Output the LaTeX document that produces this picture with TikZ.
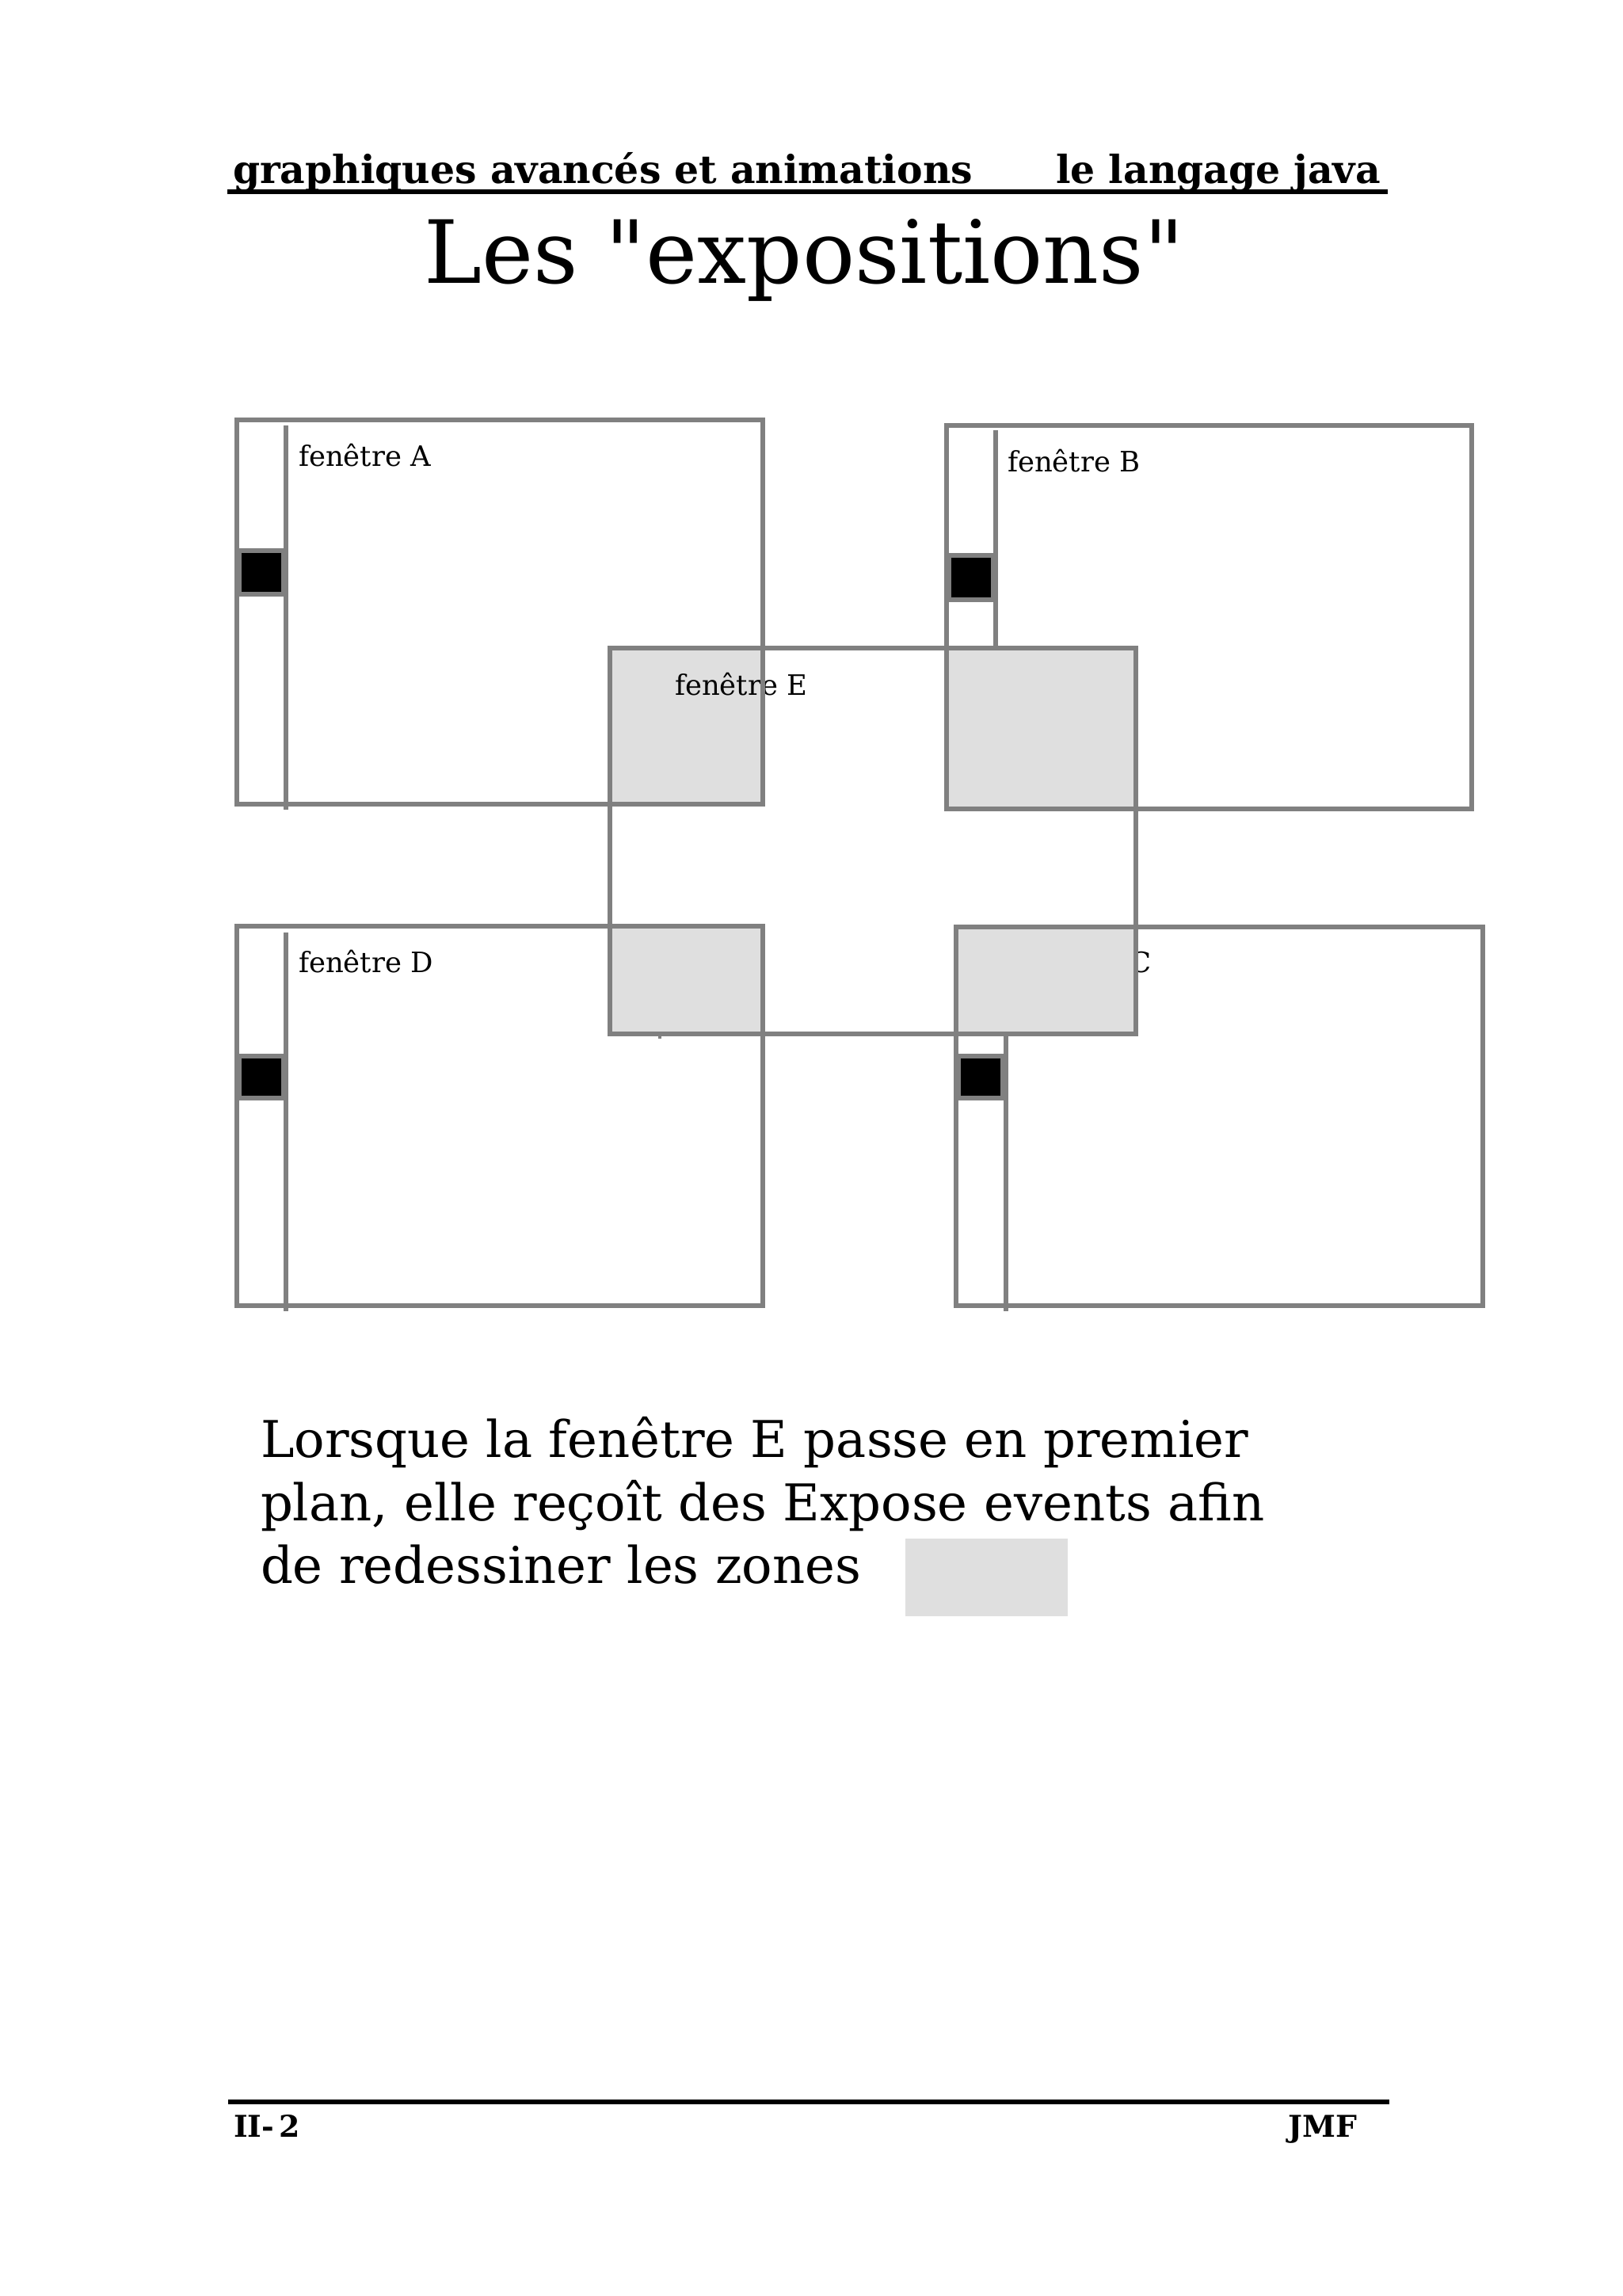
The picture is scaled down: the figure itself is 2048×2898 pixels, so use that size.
\documentclass[tikz,border=0pt]{standalone}
\usepackage{fontspec}
\setmainfont{DejaVu Serif}
\newfontfamily\straightserif[Ligatures=TeXOff]{DejaVu Serif}
\usepackage{xcolor}

\definecolor{wingray}{RGB}{128,128,128}
\definecolor{zonegray}{RGB}{223,223,223}

\begin{document}
\begin{tikzpicture}[
    x=0.29066pt, y=-0.29066pt,
    every node/.style={inner sep=0pt, outer sep=0pt},
    win/.style={draw=wingray, line width=2pt},
    scroll/.style={draw=wingray, line width=1.6pt},
    thumb/.style={draw=wingray, fill=black, line width=2pt},
    zone/.style={fill=zonegray},
    winlabel/.style={anchor=base west, font=\fontsize{10.3}{12}\selectfont},
    bodyline/.style={anchor=base west, font=\fontsize{18.6}{23}\selectfont}
]
\useasboundingbox (0,0) rectangle (2048,2898);

%==================== Header ====================
\node[anchor=base west, font=\fontsize{14.2}{16}\selectfont\bfseries] (hdleft) at (294,231) {graphiques avancés et animations};
\node[anchor=base east, font=\fontsize{14.2}{16}\selectfont\bfseries] (hdright) at (1743,231) {le langage java};
\draw[line width=1.5pt] (287,242) -- (1752,242);

\node[anchor=base, font=\fontsize{32}{38}\straightserif] (title) at (1015,357) {Les "expositions"};

%==================== Window labels (under the exposed zones) ====================
\node[winlabel] (labA) at (377,588)  {fenêtre A};
\node[winlabel] (labB) at (1272,595) {fenêtre B};
\node[winlabel] (labD) at (377,1227) {fenêtre D};
\node[winlabel] (labC) at (1285,1227) {fenêtre C};

%==================== Exposed zones ====================
\fill[zone] (770,818)   rectangle (963,1015);
\fill[zone] (1195,818)  rectangle (1434,1021);
\fill[zone] (770,1169)  rectangle (963,1305);
\fill[zone] (1207,1170) rectangle (1434,1305);

\node[winlabel] (labE) at (852,877) {fenêtre E};

%==================== Windows A, B, C, D ====================
\draw[win] (299,530)   rectangle (963,1015);
\draw[win] (1195,537)  rectangle (1858,1021);
\draw[win] (299,1169)  rectangle (963,1648);
\draw[win] (1207,1170) rectangle (1872,1648);

% scroll bars
\draw[scroll] (361,537)   -- (361,1022);
\draw[scroll] (1257,543)  -- (1257,818);
\draw[scroll] (361,1177)  -- (361,1655);
\draw[scroll] (1270,1305) -- (1270,1655);

% thumbs
\draw[thumb] (302,695)   rectangle (358,750);
\draw[thumb] (1198,701)  rectangle (1254,757);
\draw[thumb] (302,1333)  rectangle (358,1386);
\draw[thumb] (1210,1333) rectangle (1266,1386);

%==================== Window E (front) ====================
\draw[win] (770,818) rectangle (1434,1305);
\draw[wingray, line width=1pt] (833,1305) -- (833,1311);

%==================== Text ====================
\node[bodyline] (line1) at (329,1839) {Lorsque la fenêtre E passe en premier};
\node[bodyline] (line2) at (329,1919) {plan, elle reçoît des Expose events afin};
\node[bodyline] (line3) at (329,1998) {de redessiner les zones};
\fill[zone] (1143,1942) rectangle (1348,2040);

%==================== Footer ====================
\draw[line width=1.5pt] (288,2653) -- (1754,2653);
\node[anchor=base west, font=\fontsize{11}{13}\selectfont\bfseries] (pageno) at (295,2697) {II-\kern2pt 2};
\node[anchor=base east, font=\fontsize{11}{13}\selectfont\bfseries] (author) at (1713,2697) {JMF};

\end{tikzpicture}
\end{document}
